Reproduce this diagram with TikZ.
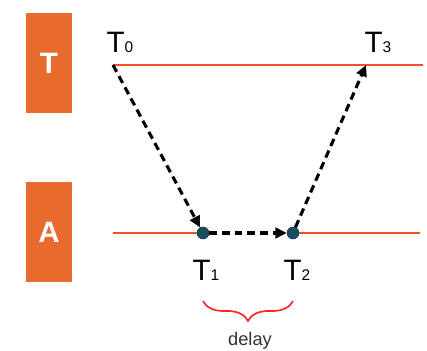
\documentclass[tikz,border=0pt]{standalone}
\usepackage{fontspec}
\setmainfont{Liberation Sans}
\usetikzlibrary{arrows.meta,decorations.pathreplacing}
\definecolor{boxorange}{RGB}{232,106,44}
\definecolor{lineorange}{RGB}{240,80,40}
\definecolor{dotteal}{RGB}{24,78,96}
\definecolor{bracered}{RGB}{250,40,40}
\tikzset{
  rolebox/.style={fill=boxorange,minimum width=1.15cm,minimum height=2.5cm,inner sep=0pt,
    text=white,font=\fontsize{21}{21}\selectfont\bfseries},
  timeline/.style={draw=lineorange,line width=0.9pt},
  msg/.style={line width=2.2pt,dash pattern=on 5.5pt off 3.5pt,
    -{Triangle[length=8pt,width=7.5pt]}},
  event/.style={circle,fill=dotteal,draw=dotteal!70!black,minimum size=0.3cm,inner sep=0pt},
  tlabel/.style={font=\fontsize{21}{21}\selectfont}
}
\newcommand{\tname}[1]{T{\fontsize{11}{11}\selectfont #1}}
\begin{document}
\begin{tikzpicture}
  \path[use as bounding box] (0,0) rectangle (10.675,8.775);
  % participants
  \node[rolebox] (tbox) at (1.225,7.2) {T};
  \node[rolebox] (abox) at (1.225,2.975) {A};
  % events
  \coordinate (t0) at (2.825,7.15);
  \coordinate (t3) at (9.15,7.15);
  \node[event] (t1) at (5.075,2.95) {};
  \node[event] (t2) at (7.325,2.95) {};
  % time lines
  \coordinate (tend) at (10.575,7.15);
  \coordinate (astart) at (2.825,2.95);
  \coordinate (aend) at (10.5,2.95);
  \draw[timeline] (t0) -- (tend);
  \draw[timeline] (astart) -- (t1);
  \draw[timeline] (t2) -- (aend);
  % labels
  \node[tlabel] (t0lab) at (3.0,7.72) {\tname{0}};
  \node[tlabel] (t3lab) at (9.45,7.72) {\tname{3}};
  \node[tlabel] (t1lab) at (5.15,2.02) {\tname{1}};
  \node[tlabel] (t2lab) at (7.425,2.02) {\tname{2}};
  % messages
  \draw[msg] (t0) -- (t1);
  \draw[msg] (t1) -- (t2);
  \draw[msg] (t2) -- (t3);
  % delay
  \coordinate (bl) at (5.075,1.25);
  \coordinate (br) at (7.325,1.25);
  \draw[bracered,line width=1.2pt,decorate,decoration={brace,amplitude=0.5cm}] (br) -- (bl);
  \node[anchor=base,font=\fontsize{13}{13}\selectfont,text=black!80] (dlab) at (6.25,0.14) {delay};
\end{tikzpicture}
\end{document}
